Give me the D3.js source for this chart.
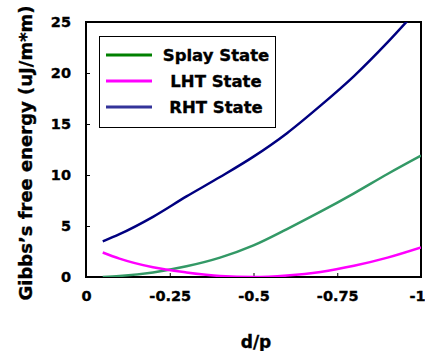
<!DOCTYPE html>
<html>
<head>
<meta charset="utf-8">
<script src="https://cdn.jsdelivr.net/npm/d3@7"></script>
<style>
  body { margin: 0; background: #fff; }
  text { font-family: "DejaVu Sans", Verdana, sans-serif; font-weight: bold; stroke: #000; stroke-width: 0.35px; }
</style>
</head>
<body>
<div id="chart"></div>
<script>
// data (d/p is negative, axis runs 0 -> -1)
const dp = [-0.05, -0.1, -0.2, -0.3, -0.4, -0.5, -0.6, -0.7, -0.8, -0.9, -1.0];
const splay = [0.0, 0.1, 0.45, 1.05, 1.9, 3.1, 4.7, 6.4, 8.2, 10.1, 11.9];
const lht = [2.4, 1.8, 0.95, 0.45, 0.1, 0.0, 0.15, 0.5, 1.1, 1.9, 2.9];
const rht = [3.5, 4.2, 5.9, 7.9, 9.8, 11.8, 14.1, 16.8, 19.7, 23.0, 26.6];

const xTicks = [0, -0.25, -0.5, -0.75, -1];
const yTicks = [0, 5, 10, 15, 20, 25];

const seriesNames = ["Splay State", "LHT State", "RHT State"];
const seriesData = [splay, lht, rht];
const lineColors = ["#339966", "#ff00ff", "#000080"];
const legendColors = ["#008000", "#ff00ff", "#333399"];

const width = 425, height = 351;
const plotL = 86, plotR = 421, plotT = 22, plotB = 277;

const svg = d3.select("#chart").append("svg")
    .attr("width", width)
    .attr("height", height);

const x = d3.scaleLinear().domain([0, -1]).range([plotL, plotR]);
const y = d3.scaleLinear().domain([0, 25]).range([plotB, plotT]);

svg.append("defs").append("clipPath")
    .attr("id", "plot")
  .append("rect")
    .attr("x", plotL).attr("y", plotT)
    .attr("width", plotR - plotL).attr("height", plotB - plotT);

// axes with small inward ticks
svg.append("g")
    .attr("transform", `translate(0,${plotB})`)
    .call(d3.axisBottom(x).tickValues(xTicks).tickSize(-4).tickPadding(14)
      .tickFormat(d => d === 0 ? "0" : d === -1 ? "-1" : String(d)))
    .call(g => g.select(".domain").remove())
    .call(g => g.selectAll("text").attr("font-size", 14.5).attr("fill", "#000")
      .attr("dx", d => d === -1 ? -4 : 0));

svg.append("g")
    .attr("transform", `translate(${plotL},0)`)
    .call(d3.axisLeft(y).tickValues(yTicks).tickSize(-4).tickPadding(15))
    .call(g => g.select(".domain").remove())
    .call(g => g.selectAll("text").attr("font-size", 14.5).attr("fill", "#000"));

// frame
svg.append("rect")
    .attr("x", plotL).attr("y", plotT)
    .attr("width", plotR - plotL).attr("height", plotB - plotT)
    .attr("fill", "none")
    .attr("stroke", "#000")
    .attr("stroke-width", 2);

const line = d3.line()
    .curve(d3.curveMonotoneX)
    .x((d, i) => x(dp[i]))
    .y(d => y(d));

svg.append("g")
    .attr("clip-path", "url(#plot)")
  .selectAll("path")
  .data(seriesData)
  .join("path")
    .attr("d", line)
    .attr("fill", "none")
    .attr("stroke", (d, i) => lineColors[i])
    .attr("stroke-width", 2.5);

// legend
const legend = svg.append("g");
legend.append("rect")
    .attr("x", 99.5).attr("y", 36.5)
    .attr("width", 176).attr("height", 91)
    .attr("fill", "#fff")
    .attr("stroke", "#000")
    .attr("stroke-width", 1);

const item = legend.selectAll("g.item")
  .data(seriesNames)
  .join("g")
    .attr("class", "item")
    .attr("transform", (d, i) => `translate(0,${55 + i * 26})`);

item.append("line")
    .attr("x1", 106).attr("x2", 152)
    .attr("stroke", (d, i) => legendColors[i])
    .attr("stroke-width", 3);

item.append("text")
    .attr("x", 216)
    .attr("dy", "0.36em")
    .attr("text-anchor", "middle")
    .attr("font-size", 16.5)
    .text(d => d);

// axis titles
svg.append("text")
    .attr("x", 256).attr("y", 348)
    .attr("text-anchor", "middle")
    .attr("font-size", 17)
    .text("d/p");

svg.append("text")
    .attr("transform", "translate(32,153) rotate(-90)")
    .attr("text-anchor", "middle")
    .attr("font-size", 18)
    .text("Gibbs’s free energy (uJ/m*m)");
</script>
</body>
</html>
